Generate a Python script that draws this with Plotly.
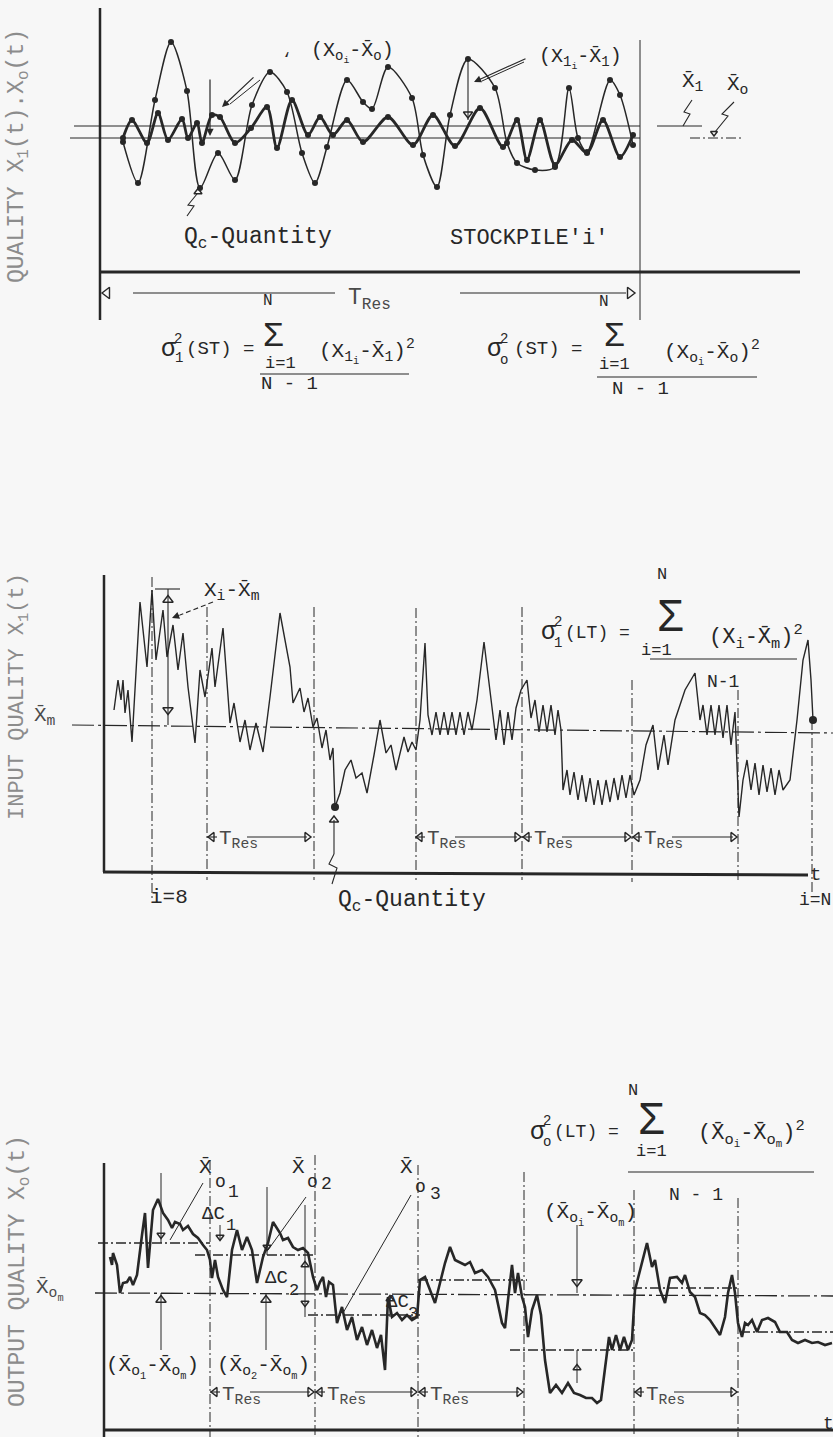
import plotly.graph_objects as go

# ---------------------------------------------------------------- data
# Panel 1 - short-term: one stockpile, sampled input X1 and output Xo
p1_t_in = [123, 138, 155, 171, 187, 200, 218, 235, 252, 270, 287, 302, 315, 327, 347, 363, 372,
           388, 412, 423, 437, 450, 468, 495, 507, 517, 535, 555, 569, 578, 587, 610, 620, 633]
p1_q_in = [130, 89, 172, 230, 181, 84, 119, 92, 167, 200, 180, 119, 89, 125, 192, 170, 163,
           205, 174, 117, 85, 157, 213, 184, 129, 109, 102, 105, 184, 134, 120, 192, 177, 127]
p1_t_out = [123, 132, 147, 158, 168, 182, 188, 197, 202, 212, 220, 235, 251, 267, 277, 292, 308, 320,
            333, 347, 363, 388, 413, 433, 455, 480, 503, 517, 527, 540, 555, 572, 587, 603, 620, 633]
p1_q_out = [134, 152, 129, 159, 132, 153, 134, 149, 129, 157, 155, 129, 144, 165, 124, 172, 137, 155,
            137, 152, 130, 155, 127, 157, 126, 164, 125, 152, 112, 152, 107, 132, 119, 152, 115, 137]
p1_mean_in = 146
p1_mean_out = 134
p1_stockpile_end = 640

# Panel 2 - long-term input quality (time, value)
p2_input = [(114, 162), (118, 192), (121, 172), (123, 192), (125, 159), (128, 182), (132, 130), (140, 270),
            (147, 205), (152, 282), (156, 212), (163, 262), (167, 215), (173, 247), (178, 202), (183, 239),
            (188, 185), (195, 129), (200, 202), (205, 175), (212, 224), (215, 185), (223, 244), (230, 149),
            (234, 169), (240, 130), (245, 152), (250, 122), (256, 149), (263, 120), (270, 175), (280, 259),
            (290, 205), (293, 169), (300, 184), (304, 160), (308, 174), (313, 145), (317, 154), (322, 124),
            (326, 142), (330, 112), (333, 124), (335, 65), (340, 79), (345, 102), (351, 112), (356, 94),
            (362, 99), (367, 79), (374, 117), (380, 152), (386, 119), (391, 127), (396, 102), (404, 135),
            (408, 120), (412, 130), (416, 122), (420, 152), (425, 229), (428, 157), (432, 137), (436, 160),
            (440, 137), (444, 160), (448, 137), (452, 160), (456, 137), (460, 160), (464, 137), (468, 160),
            (472, 142), (477, 172), (484, 230), (492, 167), (496, 132), (500, 162), (504, 127), (508, 160),
            (512, 132), (516, 164), (521, 182), (527, 192), (531, 154), (535, 172), (539, 140), (543, 167),
            (547, 140), (551, 167), (555, 137), (558, 162), (561, 142), (563, 82), (567, 102), (570, 77),
            (574, 100), (578, 72), (582, 97), (586, 70), (590, 94), (594, 67), (598, 92), (602, 67),
            (606, 92), (610, 70), (614, 94), (618, 72), (622, 97), (626, 74), (630, 97), (634, 77),
            (640, 92), (646, 127), (653, 147), (658, 102), (664, 137), (668, 107), (675, 152), (685, 182),
            (695, 199), (700, 152), (703, 167), (707, 137), (711, 167), (715, 137), (719, 167), (723, 134),
            (727, 167), (731, 127), (735, 160), (739, 55), (743, 92), (747, 112), (751, 82), (755, 109),
            (759, 77), (763, 107), (767, 80), (771, 104), (775, 77), (779, 102), (783, 82), (790, 92),
            (797, 152), (803, 212), (808, 232), (811, 192), (813, 152)]
p2_marked = [(335, 65), (813, 152)]
p2_mean = [(72, 147), (833, 139)]
p2_bounds = [152, 207, 314, 416, 522, 632, 738, 812]
p2_tres = [(207, 312), (415, 522), (522, 632), (632, 738)]

# Panel 3 - long-term output quality (time, value)
p3_output = [(110, 173), (112, 165), (113, 177), (117, 165), (120, 137), (123, 147), (127, 148), (130, 153),
             (133, 145), (137, 155), (142, 195), (145, 217), (148, 162), (153, 220), (158, 231), (163, 217),
             (168, 210), (172, 202), (175, 208), (180, 206), (183, 200), (188, 204), (193, 196), (198, 192),
             (203, 185), (207, 180), (210, 170), (212, 152), (215, 170), (218, 153), (223, 140), (227, 133),
             (232, 180), (237, 200), (242, 180), (247, 193), (252, 180), (257, 147), (263, 173), (268, 187),
             (273, 208), (280, 197), (283, 190), (288, 192), (293, 183), (298, 180), (303, 182), (308, 177),
             (313, 153), (317, 140), (320, 148), (323, 153), (326, 133), (329, 148), (333, 145), (337, 107),
             (342, 123), (347, 100), (352, 113), (357, 90), (362, 103), (367, 85), (372, 100), (377, 82),
             (381, 95), (385, 60), (388, 133), (392, 113), (397, 117), (402, 110), (407, 115), (412, 110),
             (417, 113), (420, 150), (425, 153), (430, 140), (435, 127), (440, 147), (445, 167), (450, 183),
             (455, 170), (465, 165), (470, 168), (475, 157), (482, 160), (488, 153), (495, 140), (502, 107),
             (505, 102), (508, 130), (512, 165), (515, 137), (518, 157), (522, 133), (525, 123), (528, 93),
             (532, 120), (537, 135), (541, 115), (545, 70), (550, 37), (556, 45), (562, 37), (568, 47),
             (574, 37), (580, 35), (586, 32), (592, 32), (597, 27), (601, 30), (605, 60), (609, 93),
             (612, 80), (616, 95), (620, 80), (624, 93), (628, 80), (632, 90), (635, 140), (640, 160),
             (647, 187), (652, 163), (655, 170), (660, 140), (665, 127), (670, 152), (677, 153), (682, 147),
             (685, 155), (690, 138), (695, 133), (700, 117), (705, 115), (710, 110), (715, 103), (720, 95),
             (725, 113), (728, 137), (732, 155), (735, 137), (738, 107), (742, 93), (745, 107), (748, 105),
             (752, 110), (757, 98), (762, 110), (768, 112), (775, 108), (780, 98), (787, 98), (792, 90),
             (798, 87), (805, 90), (812, 87), (818, 88), (825, 85), (832, 87)]
p3_seg_means = [(98, 210, 187), (195, 313, 175), (308, 420, 115), (418, 527, 150),
                (510, 633, 80), (632, 738, 142), (740, 833, 98)]
p3_mean = [(95, 137), (833, 134)]
p3_bounds = [210, 315, 418, 524, 634, 738]
p3_tres = [(210, 315), (315, 418), (418, 524), (634, 738)]

# ---------------------------------------------------------------- style / layout
W, H = 833, 1437
INK = "#272727"
GREY = "#8c8c8c"
MID = "#4a4a4a"
BG = "#f7f7f7"
FONT = "Liberation Mono, DejaVu Sans Mono, monospace"
SIGMA = "Liberation Sans, DejaVu Sans, sans-serif"
DD = "10px,3px,2px,3px"
PANELS = {1: dict(top=0, bottom=420, base=272),
          2: dict(top=560, bottom=940, base=872),
          3: dict(top=1040, bottom=1437, base=1430)}

fig = go.Figure()
annotations = []


def keys(p):
    s = "" if p == 1 else str(p)
    return "x" + s, "y" + s


def seg(p, xs, ys, w=1.2, dash="solid", color=INK, shape="linear", mode="lines", msize=0):
    xa, ya = keys(p)
    fig.add_trace(go.Scatter(x=list(xs), y=list(ys), mode=mode, xaxis=xa, yaxis=ya,
                             line=dict(width=w, color=color, dash=dash, shape=shape, smoothing=0.8),
                             marker=dict(size=msize, color=color),
                             hoverinfo="skip", showlegend=False, cliponaxis=False))


def tri(p, x, y, sym, size=9):
    xa, ya = keys(p)
    fig.add_trace(go.Scatter(x=[x], y=[y], mode="markers", xaxis=xa, yaxis=ya,
                             marker=dict(symbol=sym + "-open", size=size, color=INK,
                                         line=dict(width=1.4, color=INK)),
                             hoverinfo="skip", showlegend=False, cliponaxis=False))


def txt(p, x, y, s, size=20, color=INK, xanchor="center", yanchor="middle", angle=0, family=FONT):
    xa, ya = keys(p)
    annotations.append(dict(x=x, y=y, xref=xa, yref=ya, text=s, showarrow=False,
                            font=dict(size=size, color=color, family=family),
                            xanchor=xanchor, yanchor=yanchor, textangle=angle, borderpad=0))


def arrow(p, x0, y0, x1, y1, head=2, w=1.2, size=1.2):
    xa, ya = keys(p)
    annotations.append(dict(x=x1, y=y1, ax=x0, ay=y0, xref=xa, yref=ya, axref=xa, ayref=ya,
                            text="", showarrow=True, arrowhead=head, arrowwidth=w,
                            arrowsize=size, arrowcolor=INK, standoff=0))


def tres(p, t0, t1, q):
    tri(p, t0 + 5, q, "triangle-left", 8)
    seg(p, [t0, t0 + 10], [q, q], w=1.1)
    txt(p, t0 + 11, q - 3, "T<sub>Res</sub>", size=21, color=MID, xanchor="left")
    seg(p, [t0 + 40, t1 - 5], [q, q], w=1.1)
    tri(p, t1 - 5, q, "triangle-right", 8)


# ======================= panel 1 =======================
seg(1, [100, 100], [264, -48], w=2.5)
seg(1, [100, 800], [0, 0], w=3)
seg(1, [p1_stockpile_end] * 2, [232, -48], w=1)
seg(1, [74, p1_stockpile_end], [p1_mean_in] * 2, w=1)
seg(1, [70, p1_stockpile_end], [p1_mean_out] * 2, w=1)
seg(1, [657, 702], [p1_mean_in] * 2, w=1)
seg(1, [690, 742], [p1_mean_out] * 2, w=1, dash=DD)
seg(1, p1_t_in, p1_q_in, w=1.5, shape="spline", mode="lines+markers", msize=6)
seg(1, p1_t_out, p1_q_out, w=2.8, shape="spline", mode="lines+markers", msize=6)

txt(1, 18, 116, "QUALITY X<sub>1</sub>(t).X<sub>o</sub>(t)", size=23, color=GREY, angle=-90)
txt(1, 352, 220, "(X<sub>o<sub>i</sub></sub>-X̄<sub>o</sub>)", size=20)
txt(1, 287, 212, "‘", size=16)
seg(1, [260, 230], [192, 168], w=1)
arrow(1, 255, 196, 222, 165)
arrow(1, 210, 194, 210, 136)
txt(1, 580, 214, "(X<sub>1<sub>i</sub></sub>-X̄<sub>1</sub>)", size=20)
seg(1, [524, 482], [210, 191], w=1)
arrow(1, 527, 214, 474, 190)
seg(1, [468, 468], [213, 152], w=1.1)
tri(1, 468, 158, "triangle-down", 8)
txt(1, 258, 34, "Q<sub>c</sub>-Quantity", size=23)
seg(1, [187, 194, 188, 197], [56, 66, 67, 78], w=1.1)
tri(1, 198, 80, "triangle-up", 7)
txt(1, 529, 34, "STOCKPILE'i'", size=22)
txt(1, 693, 190, "X̄<sub>1</sub>", size=21)
txt(1, 737, 187, "X̄<sub>o</sub>", size=21)
seg(1, [692, 684, 690, 683], [172, 160, 158, 146], w=1.1)
seg(1, [734, 722, 728, 715], [170, 158, 156, 140], w=1.1)
tri(1, 714, 139, "triangle-down", 6)

# T_Res spanning the stockpile
tri(1, 107, -21, "triangle-left", 10)
seg(1, [133, 335], [-21, -21], w=1.1)
txt(1, 347, -27, "T<sub>Res</sub>", size=23, color=MID, xanchor="left")
seg(1, [460, 626], [-21, -21], w=1.1)
tri(1, 630, -21, "triangle-right", 10)

# short-term variance formulas
txt(1, 168, -77, "σ", size=25)
txt(1, 178, -67, "2", size=14)
txt(1, 179, -86, "1", size=14)
txt(1, 185, -77, "(ST) =", size=19, xanchor="left")
txt(1, 273, -62, "Σ", size=34, family=SIGMA)
txt(1, 268, -29, "N", size=16)
txt(1, 280, -91, "i=1", size=17)
txt(1, 318, -79, "(X<sub>1<sub>i</sub></sub>-X̄<sub>1</sub>)<sup>2</sup>", size=21, xanchor="left")
seg(1, [260, 409], [-102, -102], w=1.1)
txt(1, 260, -112, "N - 1", size=19, xanchor="left")

txt(1, 494, -77, "σ", size=25)
txt(1, 504, -67, "2", size=14)
txt(1, 504, -88, "o", size=14)
txt(1, 513, -77, "(ST) =", size=19, xanchor="left")
txt(1, 614, -62, "Σ", size=34, family=SIGMA)
txt(1, 604, -30, "N", size=16)
txt(1, 614, -92, "i=1", size=17)
txt(1, 663, -80, "(X<sub>o<sub>i</sub></sub>-X̄<sub>o</sub>)<sup>2</sup>", size=21, xanchor="left")
seg(1, [597, 757], [-105, -105], w=1.1)
txt(1, 611, -117, "N - 1", size=19, xanchor="left")

# ======================= panel 2 =======================
p2_tops = [295, 265, 265, 264, 265, 192, 182, 152]
p2_bots = [-26, -8, -8, -8, -8, -10, -10, -20]
seg(2, [104, 104], [297, 0], w=2.5)
seg(2, [103, 808], [0, -3], w=3)
for t, top, bot in zip(p2_bounds, p2_tops, p2_bots):
    seg(2, [t, t], [top, bot], w=1, dash=DD)
seg(2, [p[0] for p in p2_mean], [p[1] for p in p2_mean], w=1.2, dash="22px,4px,3px,4px")
seg(2, [p[0] for p in p2_input], [p[1] for p in p2_input], w=1.4)
seg(2, [p[0] for p in p2_marked], [p[1] for p in p2_marked], mode="markers", msize=8)

txt(2, 19, 175, "INPUT QUALITY X<sub>1</sub>(t)", size=22, color=GREY, angle=-90)
txt(2, 45, 155, "X̄<sub>m</sub>", size=21, color=MID)
txt(2, 232, 280, "X<sub>i</sub>-X̄<sub>m</sub>", size=21)
seg(2, [213, 180], [270, 257], w=1.1, dash="5px,3px")
arrow(2, 181, 257.5, 172, 254)
seg(2, [168, 168], [283, 147], w=1.1)
seg(2, [155, 180], [283, 283], w=1.1)
tri(2, 168, 272, "triangle-up", 9)
tri(2, 168, 162, "triangle-down", 9)
for a, b in p2_tres:
    tres(2, a, b, 35)
txt(2, 149, -26, "i=8", size=21, xanchor="left")
txt(2, 337, -30, "Q<sub>c</sub>-Quantity", size=23, xanchor="left")
seg(2, [334, 334], [52, 18], w=1.1)
seg(2, [334, 329, 337, 332], [18, 8, 4, -12], w=1.1)
tri(2, 334, 52, "triangle-up", 8)
txt(2, 815, -3, "t", size=19)
txt(2, 815, -28, "i=N", size=18)

txt(2, 548, 239, "σ", size=25)
txt(2, 558, 250, "2", size=14)
txt(2, 558, 229, "1", size=14)
txt(2, 564, 239, "(LT) =", size=18, xanchor="left")
txt(2, 670, 256, "Σ", size=44, family=SIGMA)
txt(2, 662, 297, "N", size=17)
txt(2, 656, 221, "i=1", size=17)
txt(2, 708, 235, "(X<sub>i</sub>-X̄<sub>m</sub>)<sup>2</sup>", size=22, xanchor="left")
seg(2, [650, 797], [213, 213], w=1.1)
txt(2, 706, 190, "N-1", size=18, xanchor="left")

# ======================= panel 3 =======================
p3_tops = [270, 275, 265, 258, 240, 232]
seg(3, [104, 104], [267, -7], w=2.5)
seg(3, [103, 833], [0, 0], w=3)
for t, top in zip(p3_bounds, p3_tops):
    seg(3, [t, t], [top, -7], w=1, dash=DD)
for a, b, lvl in p3_seg_means:
    seg(3, [a, b], [lvl, lvl], w=1.3, dash=DD)
seg(3, [p[0] for p in p3_mean], [p[1] for p in p3_mean], w=1.3, dash="22px,4px,3px,4px")
seg(3, [p[0] for p in p3_output], [p[1] for p in p3_output], w=2.6)

txt(3, 19, 159, "OUTPUT QUALITY X<sub>o</sub>(t)", size=23, color=GREY, angle=-90)
txt(3, 50, 140, "X̄<sub>o<sub>m</sub></sub>", size=21, color=MID)

# local means and pointers
seg(3, [161, 161], [257, 187], w=1)
tri(3, 161, 195, "triangle-down", 7)
seg(3, [267, 267], [243, 175], w=1)
tri(3, 267, 183, "triangle-down", 7)
seg(3, [305, 305], [225, 113], w=1)
tri(3, 305, 165, "triangle-up", 7)
tri(3, 305, 127, "triangle-down", 7)
seg(3, [220, 220], [205, 190], w=1)
tri(3, 220, 193, "triangle-down", 7)
seg(3, [390, 390], [133, 113], w=1)
tri(3, 390, 131, "triangle-up", 7)
for t in (161, 266):
    seg(3, [t, t], [137, 80], w=1)
    tri(3, t, 130, "triangle-up", 9)
seg(3, [577, 577], [205, 137], w=1)
tri(3, 577, 148, "triangle-down", 9)
seg(3, [577, 577], [80, 47], w=1)
tri(3, 577, 62, "triangle-up", 7)

txt(3, 205, 263, "X̄", size=21)
txt(3, 220, 248, "o", size=18)
txt(3, 233, 238, "1", size=18)
seg(3, [203, 170], [247, 190], w=1)
txt(3, 213, 216, "ΔC", size=19)
txt(3, 231, 205, "1", size=17)
txt(3, 298, 263, "X̄", size=21)
txt(3, 312, 248, "o", size=18)
txt(3, 326, 246, "2", size=18)
seg(3, [306, 268], [233, 180], w=1)
txt(3, 276, 152, "ΔC", size=19)
txt(3, 294, 140, "2", size=17)
txt(3, 406, 263, "X̄", size=21)
txt(3, 420, 243, "o", size=18)
txt(3, 435, 236, "3", size=18)
seg(3, [411, 343], [235, 117], w=1)
txt(3, 397, 128, "ΔC", size=19)
txt(3, 413, 117, "3", size=17)

txt(3, 152, 62, "(X̄<sub>o<sub>1</sub></sub>-X̄<sub>o<sub>m</sub></sub>)", size=21)
txt(3, 263, 62, "(X̄<sub>o<sub>2</sub></sub>-X̄<sub>o<sub>m</sub></sub>)", size=21)
txt(3, 590, 215, "(X̄<sub>o<sub>i</sub></sub>-X̄<sub>o<sub>m</sub></sub>)", size=21)
for a, b in p3_tres:
    tres(3, a, b, 38)
txt(3, 828, 6, "t", size=18)

txt(3, 537, 298, "σ", size=25)
txt(3, 547, 309, "2", size=14)
txt(3, 547, 288, "o", size=14)
txt(3, 553, 298, "(LT) =", size=18, xanchor="left")
txt(3, 651, 312, "Σ", size=44, family=SIGMA)
txt(3, 633, 340, "N", size=17)
txt(3, 651, 279, "i=1", size=17)
txt(3, 697, 297, "(X̄<sub>o<sub>i</sub></sub>-X̄<sub>o<sub>m</sub></sub>)<sup>2</sup>", size=22, xanchor="left")
seg(3, [628, 814], [258, 258], w=1.1)
txt(3, 668, 235, "N - 1", size=18, xanchor="left")

# ---------------------------------------------------------------- axes
layout = dict(width=W, height=H, margin=dict(l=0, r=0, t=0, b=0),
              paper_bgcolor=BG, plot_bgcolor=BG, showlegend=False,
              annotations=annotations)
for p, g in PANELS.items():
    s = "" if p == 1 else str(p)
    layout["xaxis" + s] = dict(domain=[0, 1], range=[0, W], visible=False, fixedrange=True,
                               anchor="y" + s)
    layout["yaxis" + s] = dict(domain=[1 - g["bottom"] / H, 1 - g["top"] / H],
                               range=[g["base"] - g["bottom"], g["base"] - g["top"]],
                               visible=False, fixedrange=True, anchor="x" + s)
fig.update_layout(**layout)
fig.write_html("out.html")
